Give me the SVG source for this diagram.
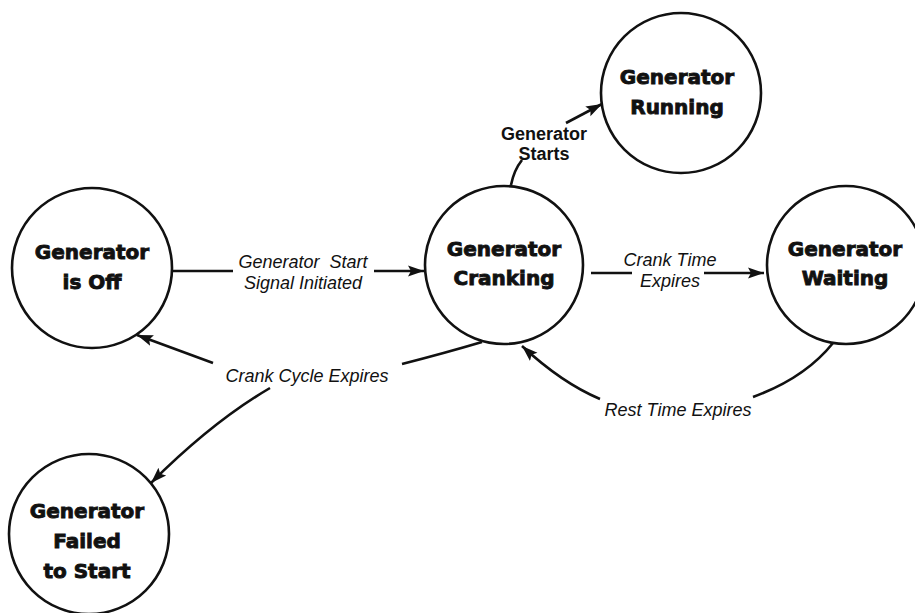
<svg xmlns="http://www.w3.org/2000/svg" width="915" height="613" viewBox="0 0 915 613">
<defs>
<marker id="ah" markerUnits="userSpaceOnUse" markerWidth="18" markerHeight="14" refX="16" refY="7" orient="auto">
<path d="M0,1.5 L16,7 L0,12.5 L3,7 Z" fill="#111"/>
</marker>
</defs>
<style>
.node circle{fill:#fff;stroke:#111;stroke-width:2.6}
.nl{font-family:"DejaVu Sans",sans-serif;font-weight:bold;font-size:20px;fill:#111;stroke:#111;stroke-width:0.9;text-anchor:middle}
.el{font-family:"Liberation Sans",Arial,sans-serif;font-style:italic;font-size:18px;fill:#111;text-anchor:middle}
.bl{font-family:"Liberation Sans",Arial,sans-serif;font-weight:bold;font-size:18px;fill:#111;text-anchor:middle}
#connectors path{fill:none;stroke:#111;stroke-width:2.6}
</style>
<rect width="915" height="613" fill="#fff"/>
<g id="connectors">
<path d="M173,271 L233,271"/>
<path d="M374,271 L424,271" marker-end="url(#ah)"/>
<path d="M591,273 L632,273"/>
<path d="M704,273 L764,273" marker-end="url(#ah)"/>
<path d="M511,185 Q514,170 522,160"/>
<path d="M566,123 L602,104" marker-end="url(#ah)"/>
<path d="M833,343 Q805,378 753,397"/>
<path d="M600,399 Q562,383 522,346" marker-end="url(#ah)"/>
<path d="M482,342 Q445,353 402,364"/>
<path d="M213,363 L137,335" marker-end="url(#ah)"/>
<path d="M270,388 Q212,422 151,483" marker-end="url(#ah)"/>
</g>
<g id="node-off" class="node">
<circle cx="92" cy="268" r="80"/>
<text class="nl" x="92" y="259">Generator</text>
<text class="nl" x="92" y="289">is Off</text>
</g>
<g id="node-cranking" class="node">
<circle cx="504" cy="265" r="79"/>
<text class="nl" x="504" y="256">Generator</text>
<text class="nl" x="504" y="285">Cranking</text>
</g>
<g id="node-waiting" class="node">
<circle cx="846" cy="265" r="79"/>
<text class="nl" x="845" y="256">Generator</text>
<text class="nl" x="845" y="285">Waiting</text>
</g>
<g id="node-running" class="node">
<circle cx="681" cy="93" r="80"/>
<text class="nl" x="677" y="84">Generator</text>
<text class="nl" x="677" y="114">Running</text>
</g>
<g id="node-failed" class="node">
<circle cx="89" cy="534" r="80"/>
<text class="nl" x="87" y="518">Generator</text>
<text class="nl" x="87" y="548">Failed</text>
<text class="nl" x="87" y="578">to Start</text>
</g>
<g id="labels">
<text class="el" x="303" y="268" xml:space="preserve">Generator  Start</text>
<text class="el" x="303" y="289">Signal Initiated</text>
<text class="el" x="670" y="266">Crank Time</text>
<text class="el" x="670" y="287">Expires</text>
<text class="el" x="307" y="382">Crank Cycle Expires</text>
<text class="el" x="678" y="416">Rest Time Expires</text>
<text class="bl" x="544" y="140">Generator</text>
<text class="bl" x="544" y="160">Starts</text>
</g>
</svg>
